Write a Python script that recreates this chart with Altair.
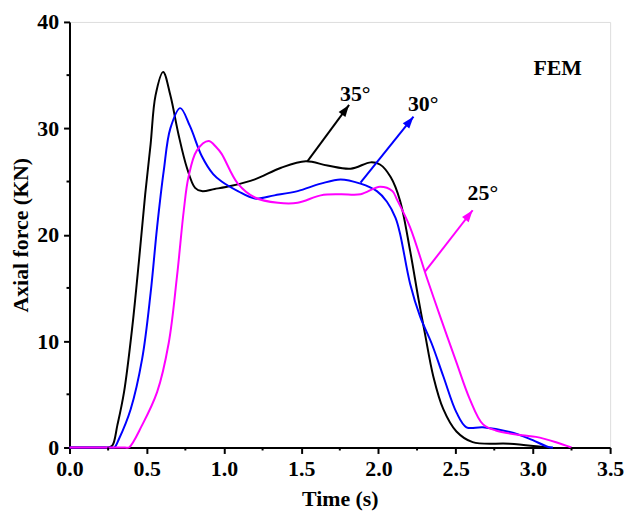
import math
import altair as alt
import pandas as pd

# ---- data ----
t35 = [0, 0.1, 0.17, 0.22, 0.25, 0.278, 0.31, 0.353, 0.407, 0.45, 0.49, 0.525, 0.557, 0.606, 0.653, 0.706,
       0.76, 0.813, 0.856, 0.94, 1.05, 1.2, 1.37, 1.53, 1.67, 1.82, 1.95, 2.01, 2.08, 2.14, 2.205, 2.26, 2.30,
       2.355, 2.42, 2.505, 2.61, 2.85, 3.06, 3.1]
f35 = [0, 0, 0, 0, 0, 0.2, 2.1, 5.2, 11.4, 17.6, 23.8, 28.5, 33.1, 35.3, 33.1, 29.4,
       26.3, 24.4, 24.1, 24.3, 24.6, 25.2, 26.3, 26.9, 26.5, 26.2, 26.8, 26.6, 25.4, 23.2, 18.5, 13.9, 10.8,
       6.7, 3.6, 1.5, 0.5, 0.35, 0.05, 0]

t30 = [0, 0.1, 0.18, 0.24, 0.27, 0.29, 0.32, 0.396, 0.47, 0.525, 0.567, 0.61, 0.653, 0.717, 0.78, 0.856,
       0.93, 0.985, 1.09, 1.2, 1.327, 1.477, 1.627, 1.755, 1.884, 1.99, 2.055, 2.11, 2.14, 2.205, 2.27,
       2.344, 2.42, 2.505, 2.57, 2.676, 2.85, 2.975, 3.10, 3.13]
f30 = [0, 0, 0, 0, 0, 0, 0.8, 3.6, 8.3, 14.5, 20.7, 26.0, 30.0, 31.9, 30.2, 27.4,
       25.7, 25.0, 24.1, 23.4, 23.7, 24.1, 24.8, 25.2, 24.8, 24.1, 23.1, 21.6, 20.1, 15.4, 12.3,
       9.8, 6.7, 3.3, 1.9, 1.9, 1.45, 0.84, 0.05, 0]

t25 = [0, 0.1, 0.2, 0.28, 0.33, 0.36, 0.385, 0.47, 0.567, 0.642, 0.696, 0.74, 0.77, 0.824, 0.90, 0.952,
       0.985, 1.09, 1.2, 1.35, 1.477, 1.627, 1.755, 1.884, 2.01, 2.09, 2.12, 2.205, 2.31, 2.40, 2.505,
       2.59, 2.676, 2.76, 2.93, 3.02, 3.15, 3.25]
f25 = [0, 0, 0, 0, 0, 0, 0, 2.1, 5.2, 9.8, 16.1, 22.3, 25.4, 27.9, 28.8, 28.2,
       27.6, 24.8, 23.5, 23.0, 23.0, 23.7, 23.8, 23.8, 24.5, 24.1, 23.3, 20.7, 16.1, 12.3, 8.0,
       4.6, 2.2, 1.6, 1.15, 1.0, 0.5, 0]

series_names = ["35°", "30°", "25°"]
series_colors = ["#000000", "#0000FF", "#FF00FF"]

# annotation arrows (start on curve -> tip) and labels
arrow_x1 = [1.54, 1.884, 2.30]
arrow_y1 = [26.9, 24.9, 16.5]
arrow_x2 = [1.81, 2.227, 2.61]
arrow_y2 = [32.2, 31.1, 22.3]
label_x = [1.85, 2.29, 2.676]
label_y = [33.2, 32.3, 23.9]
fem_x = [3.16]
fem_y = [35.7]
fem_text = ["FEM"]

x_major = [i * 0.5 for i in range(8)]
x_minor = [0.25 + i * 0.5 for i in range(7)]
y_major = [i * 10 for i in range(5)]
y_minor = [5 + i * 10 for i in range(4)]

W, H = 545, 429
XMAX, YMAX = 3.5, 40
FONT = "Liberation Serif"

rows = []
for name, ts, fs in zip(series_names, [t35, t30, t25], [f35, f30, f25]):
    for t, f in zip(ts, fs):
        rows.append({"t": t, "F": f, "s": name})
df = pd.DataFrame(rows)

angles = []
for x1, y1, x2, y2 in zip(arrow_x1, arrow_y1, arrow_x2, arrow_y2):
    dx = (x2 - x1) * W / XMAX
    dy = (y2 - y1) * H / YMAX
    angles.append(math.degrees(math.atan2(dx, dy)))

arr = pd.DataFrame({"x1": arrow_x1, "y1": arrow_y1, "x2": arrow_x2, "y2": arrow_y2,
                    "ang": angles, "s": series_names,
                    "lx": label_x, "ly": label_y})
fem = pd.DataFrame({"x": fem_x, "y": fem_y, "txt": fem_text})
xmin_df = pd.DataFrame({"v": x_minor})
ymin_df = pd.DataFrame({"v": y_minor})

xscale = alt.Scale(domain=[0, XMAX], nice=False, zero=False)
yscale = alt.Scale(domain=[0, YMAX], nice=False, zero=False)
cscale = alt.Scale(domain=series_names, range=series_colors)

common = dict(
    grid=False, domainColor="black", domainWidth=2, tickColor="black", tickWidth=2, tickSize=6,
    labelFont=FONT, labelFontWeight="bold", labelFontSize=22, labelColor="black",
    labelPadding=5, labelFlush=False, labelOverlap=False,
    titleFont=FONT, titleFontWeight="bold", titleFontSize=22, titleColor="black",
)
xaxis = alt.Axis(values=x_major, format=".1f", title="Time (s)", titlePadding=9, **common)
yaxis = alt.Axis(values=y_major, format="d", title="Axial force (KN)", titlePadding=4, **common)

lines = alt.Chart(df).mark_line(interpolate="catmull-rom", strokeWidth=2).encode(
    x=alt.X("t:Q", scale=xscale, axis=xaxis),
    y=alt.Y("F:Q", scale=yscale, axis=yaxis),
    color=alt.Color("s:N", scale=cscale, legend=None),
    detail="s:N",
    order=alt.Order("t:Q"),
)

# minor ticks (outward, short)
xminor = alt.Chart(xmin_df).mark_rule(strokeWidth=2, color="black", y2Offset=3).encode(
    x=alt.X("v:Q", scale=xscale),
    y=alt.YDatum(0, scale=yscale),
    y2=alt.datum(0),
)
yminor = alt.Chart(ymin_df).mark_rule(strokeWidth=2, color="black", x2Offset=-3).encode(
    y=alt.Y("v:Q", scale=yscale),
    x=alt.XDatum(0, scale=xscale),
    x2=alt.datum(0),
)

shafts = alt.Chart(arr).mark_rule(strokeWidth=2).encode(
    x=alt.X("x1:Q", scale=xscale), y=alt.Y("y1:Q", scale=yscale),
    x2="x2:Q", y2="y2:Q",
    color=alt.Color("s:N", scale=cscale, legend=None),
)

heads = alt.Chart(arr).mark_point(
    shape="M0,0L0.7,2L-0.7,2Z", filled=True, size=144, opacity=1, strokeWidth=0
).encode(
    x=alt.X("x2:Q", scale=xscale), y=alt.Y("y2:Q", scale=yscale),
    angle=alt.Angle("ang:Q", scale=None),
    color=alt.Color("s:N", scale=cscale, legend=None),
)

labels = alt.Chart(arr).mark_text(
    font=FONT, fontWeight="bold", fontSize=22, color="black", baseline="middle", align="center"
).encode(
    x=alt.X("lx:Q", scale=xscale), y=alt.Y("ly:Q", scale=yscale), text="s:N",
)

femtext = alt.Chart(fem).mark_text(
    font=FONT, fontWeight="bold", fontSize=22, color="black", baseline="middle", align="center"
).encode(
    x=alt.X("x:Q", scale=xscale), y=alt.Y("y:Q", scale=yscale), text="txt:N",
)

chart = alt.layer(lines, xminor, yminor, shafts, heads, labels, femtext).properties(
    width=W, height=H,
    autosize=alt.AutoSizeParams(type="none"),
    padding={"left": 62, "top": 12, "right": 16, "bottom": 67},
).configure_view(stroke="black", strokeWidth=2).configure(background="white")

chart.save("out.html", embed_options={"renderer": "svg", "actions": False})
